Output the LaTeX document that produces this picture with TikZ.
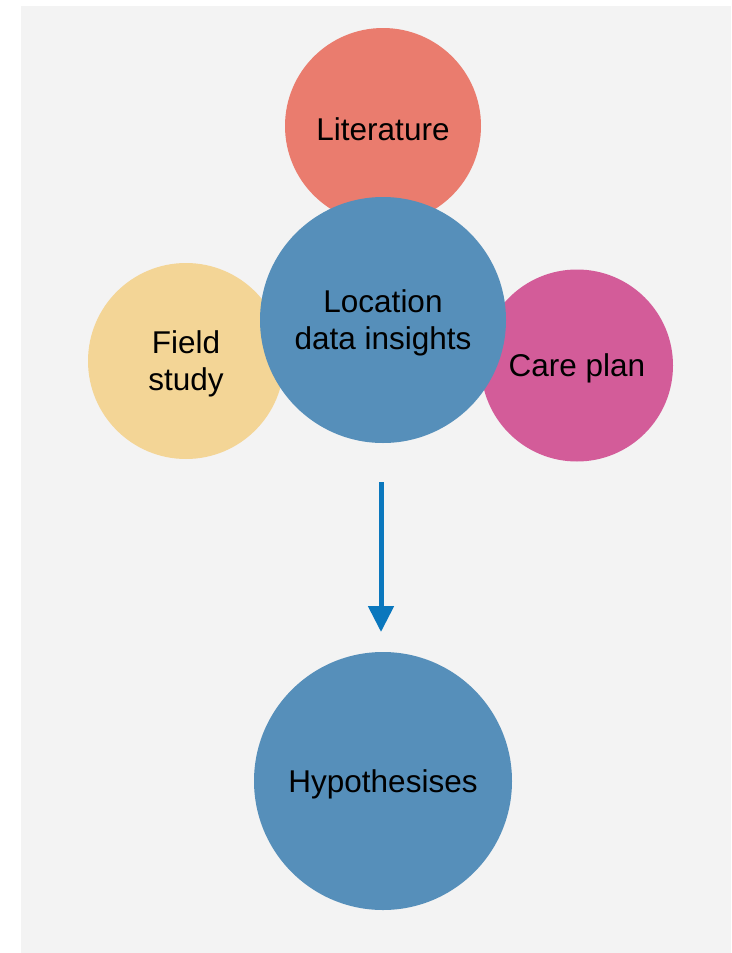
\documentclass[tikz,border=0pt]{standalone}
\usepackage{fontspec}
\setmainfont{Liberation Sans}
\usetikzlibrary{arrows.meta}
\definecolor{panelgray}{HTML}{F3F3F3}
\definecolor{litred}{HTML}{EA7C6E}
\definecolor{locblue}{HTML}{568FBA}
\definecolor{fieldtan}{HTML}{F3D596}
\definecolor{carepink}{HTML}{D35C99}
\definecolor{arrowblue}{HTML}{0A77BD}
\begin{document}
\begin{tikzpicture}[x=1pt,y=-1pt,
  bubble/.style={circle,inner sep=0pt},
  caption/.style={label={[align=center,text=black,yshift=-3pt,
    font=\fontsize{31.5}{37.5}\selectfont]center:#1}},
  flow/.style={draw=arrowblue,line width=5pt,
    -{Triangle[width=25pt,length=26pt]}}]
  \useasboundingbox (0,0) rectangle (731,953);
  \fill[panelgray] (21,6) rectangle (731,953);
  % outer topics, drawn below the central bubble
  \node[bubble,fill=litred,minimum size=196pt,caption={Literature}] (lit) at (383,126) {};
  \node[bubble,fill=fieldtan,minimum size=196pt,caption={Field\\study}] (field) at (186,361) {};
  \node[bubble,fill=carepink,minimum size=192pt,caption={Care plan}] (care) at (577,365.5) {};
  % central bubble
  \node[bubble,fill=locblue,minimum size=246pt,caption={Location\\data insights}] (loc) at (383,320) {};
  % result
  \node[bubble,fill=locblue,minimum size=258pt,caption={Hypothesises}] (hyp) at (383,781) {};
  \coordinate (arrowtop) at (381,482);
  \coordinate (arrowtip) at (381,632);
  \draw[flow] (arrowtop) -- (arrowtip);
\end{tikzpicture}
\end{document}
